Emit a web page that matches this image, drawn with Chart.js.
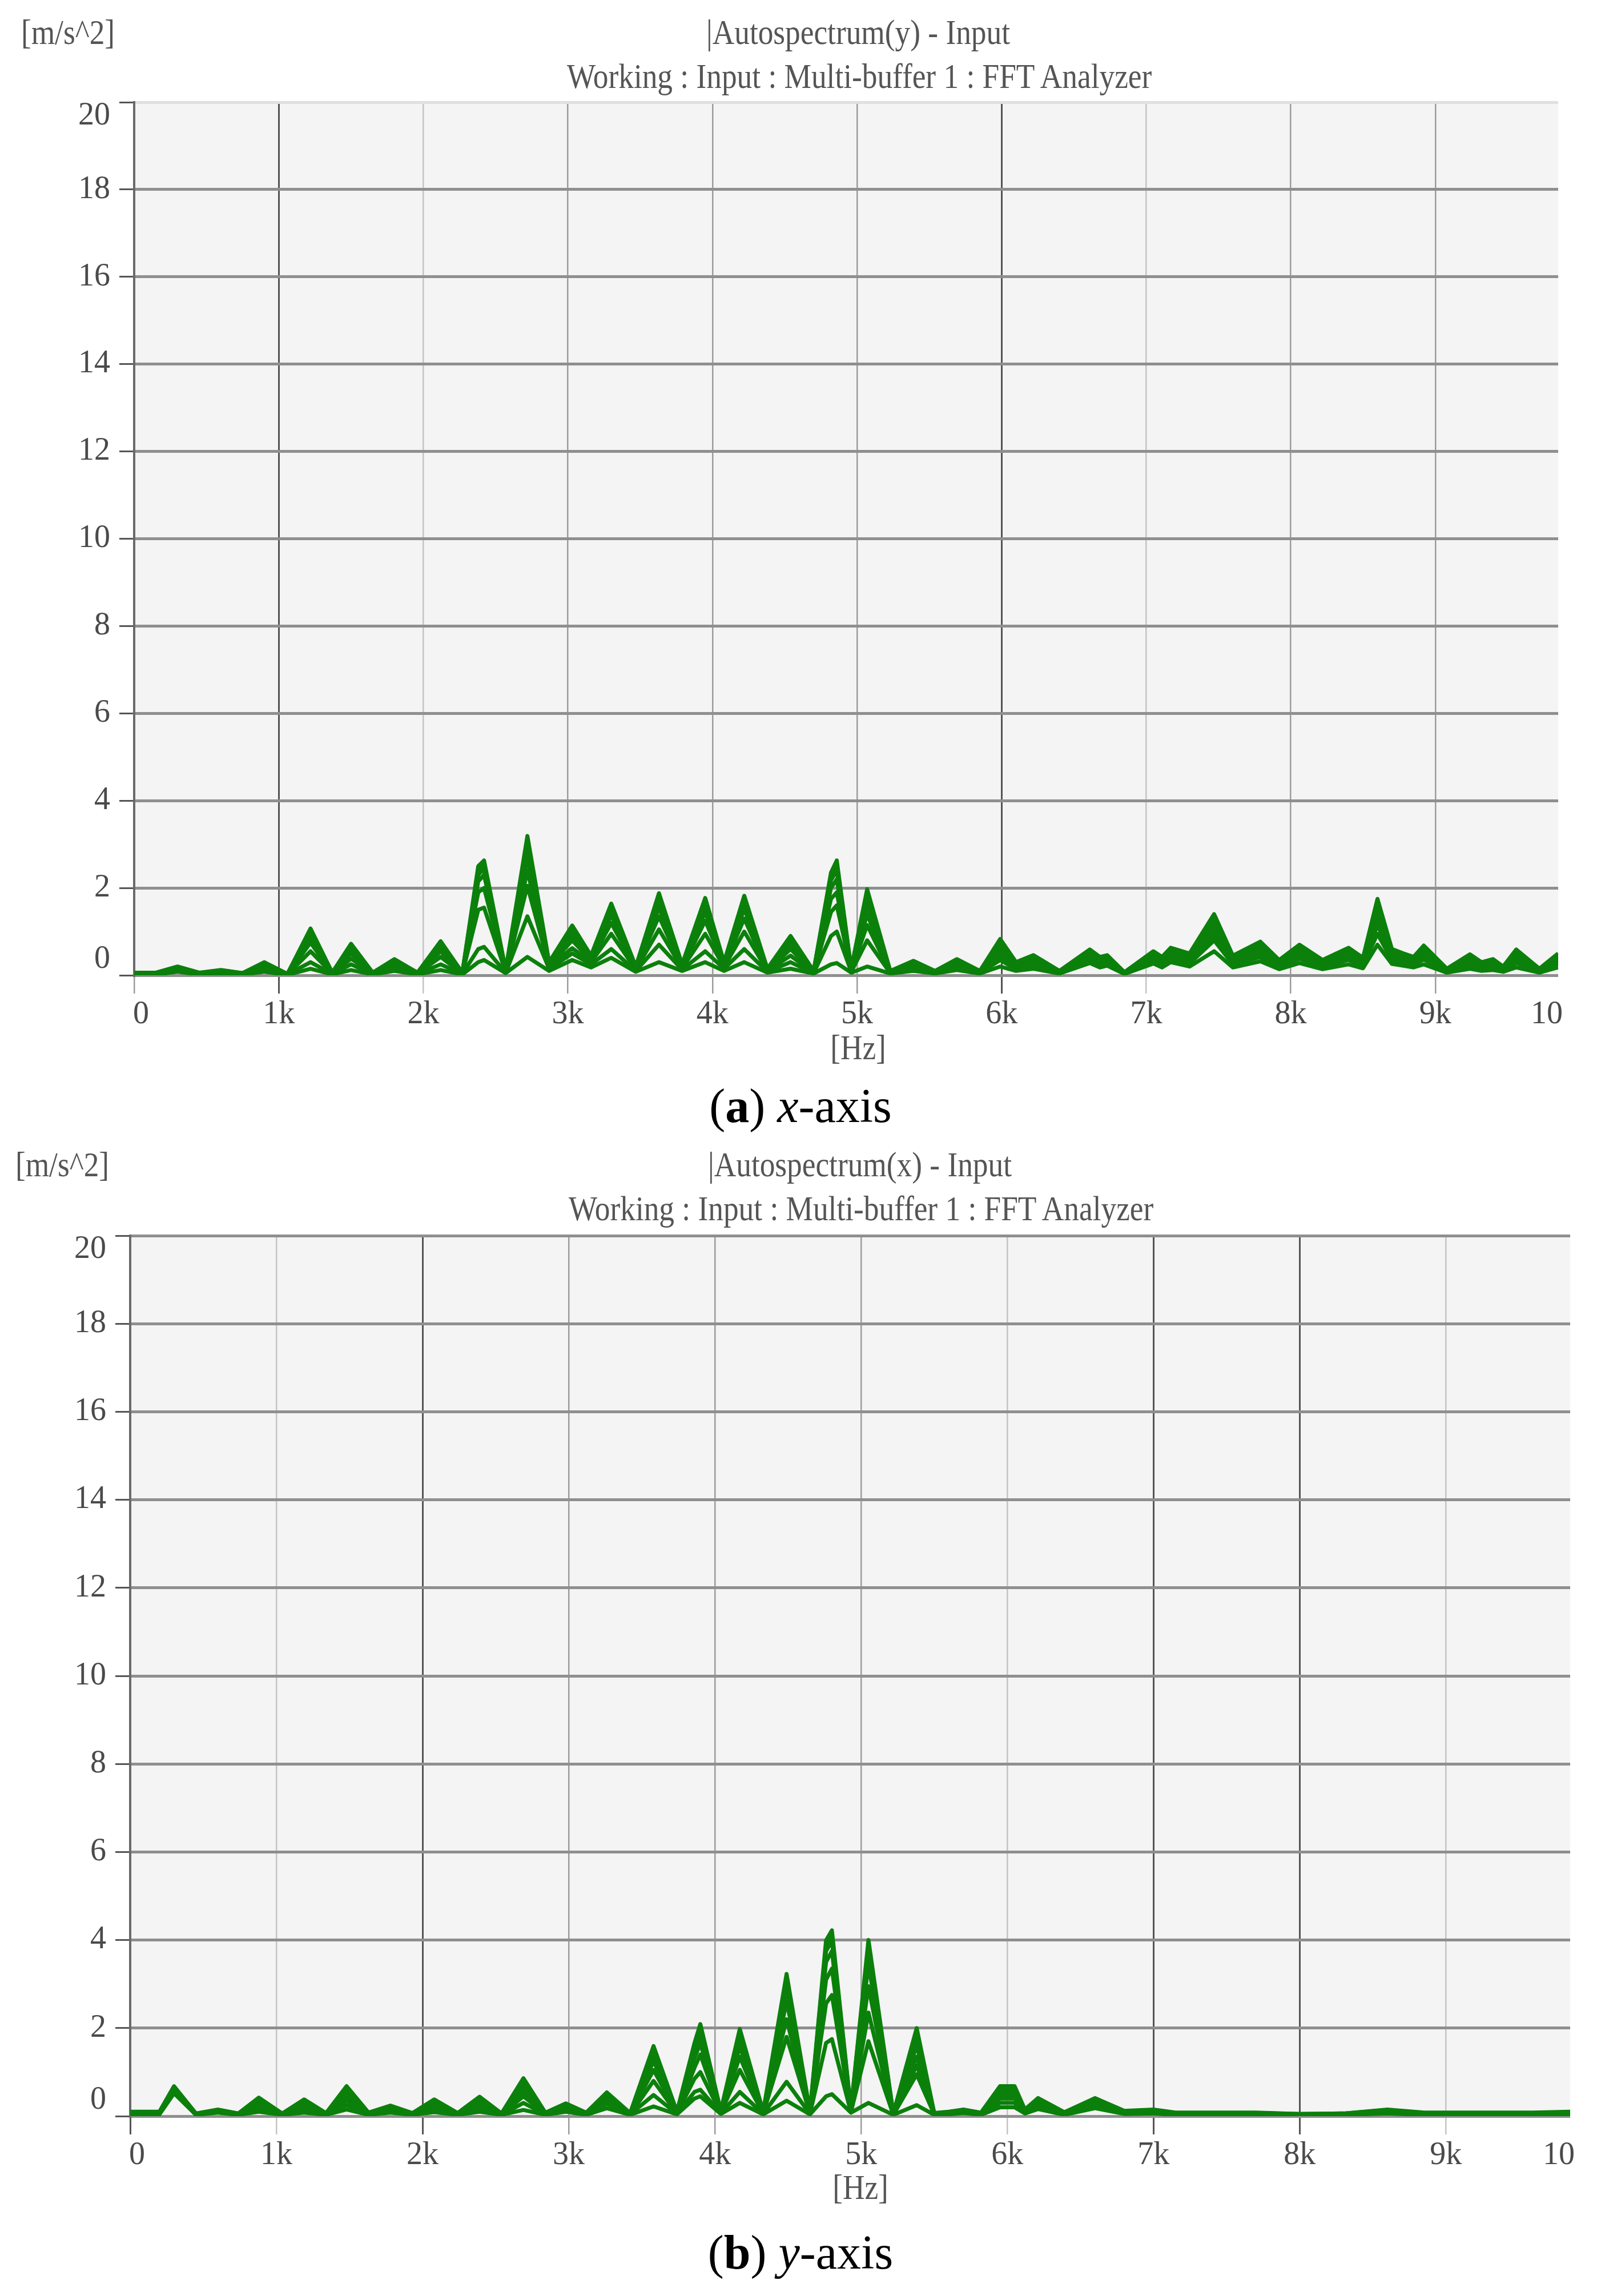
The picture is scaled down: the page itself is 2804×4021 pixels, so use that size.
<!DOCTYPE html>
<html lang="en">
<head>
<meta charset="UTF-8">
<title>Autospectrum - Multi-buffer FFT</title>
<script src="https://cdn.jsdelivr.net/npm/chart.js@4/dist/chart.umd.min.js"></script>
<style>
  html, body { margin: 0; padding: 0; background: #fff; }
  body { width: 2804px; height: 4021px; position: relative; overflow: hidden; font-family: 'Liberation Serif', serif; }
  .box { position: absolute; left: 0; width: 2804px; }
  .txt { position: absolute; white-space: nowrap; font-size: 62px; line-height: 1; color: #555;
         transform: translate(-50%, -50%) scaleX(0.86); }
  .cap { position: absolute; white-space: nowrap; font-size: 84px; line-height: 1; color: #000;
         transform: translate(-50%, -50%); }
</style>
</head>
<body>

<div class="box" style="top:120px;height:1730px"><canvas id="chartA"></canvas></div>
<div class="box" style="top:2104px;height:1746px"><canvas id="chartB"></canvas></div>

<!-- (a) -->
<div class="txt" style="left:119px;top:56px">[m/s^2]</div>
<div class="txt" style="left:1503px;top:56px">|Autospectrum(y) - Input</div>
<div class="txt" style="left:1505px;top:133px">Working : Input : Multi-buffer 1 : FFT Analyzer</div>
<div class="txt" style="left:1503px;top:1834px">[Hz]</div>
<div class="cap" style="left:1402px;top:1937px">(<b>a</b>) <i>x</i>-axis</div>

<!-- (b) -->
<div class="txt" style="left:109px;top:2039px">[m/s^2]</div>
<div class="txt" style="left:1506px;top:2039px">|Autospectrum(x) - Input</div>
<div class="txt" style="left:1508px;top:2116px">Working : Input : Multi-buffer 1 : FFT Analyzer</div>
<div class="txt" style="left:1507px;top:3830px">[Hz]</div>
<div class="cap" style="left:1402px;top:3945px">(<b>b</b>) <i>y</i>-axis</div>

<script>
// tick labels
const X_MAX = 9850;
const xTickVals = [0, 1000, 2000, 3000, 4000, 5000, 6000, 7000, 8000, 9000, X_MAX];
const xTickLabels = ['0', '1k', '2k', '3k', '4k', '5k', '6k', '7k', '8k', '9k', '10'];

// (a) frequencies [Hz] and the 8 buffer traces [m/s^2]
const freqA = [0,150,300,450,600,750,900,1060,1220,1370,
  1500,1650,1800,1960,2120,2270,2380,2420,2570,2720,
  2870,3030,3160,3300,3470,3630,3790,3950,4080,4220,
  4380,4540,4700,4820,4860,4960,5070,5230,5390,5540,
  5690,5850,5990,6100,6220,6400,6610,6680,6730,6850,
  7050,7110,7170,7300,7470,7600,7790,7920,8060,8220,
  8400,8500,8600,8700,8780,8850,8920,9080,9240,9320,
  9400,9470,9560,9720,9850];

const a1 = [.06,.06,.20,.06,.12,.05,.30,.03,1.07,.06,
  .72,.06,.37,.06,.78,.06,2.50,2.63,.12,3.19,
  .30,1.14,.45,1.64,.20,1.88,.25,1.77,.30,1.82,
  .15,.90,.10,2.35,2.63,.15,1.97,.10,.33,.10,
  .37,.10,.83,.30,.46,.10,.59,.42,.46,.07,
  .55,.42,.63,.50,1.40,.45,.77,.35,.70,.35,
  .63,.40,1.75,.60,.50,.42,.68,.15,.48,.30,
  .37,.20,.59,.15,.50];
const a2 = [.05,.05,.18,.05,.11,.05,.28,.03,1.00,.06,
  .68,.06,.35,.06,.74,.06,2.42,2.55,.11,3.05,
  .28,1.08,.42,1.55,.19,1.80,.24,1.70,.28,1.74,
  .14,.85,.09,2.28,2.52,.14,1.88,.09,.30,.09,
  .34,.09,.78,.28,.43,.09,.56,.40,.43,.07,
  .52,.40,.60,.47,1.33,.42,.73,.33,.66,.33,
  .60,.38,1.66,.56,.47,.40,.64,.14,.45,.28,
  .35,.19,.56,.14,.47];
const a3 = [.05,.05,.17,.05,.10,.04,.25,.03,.93,.05,
  .64,.05,.32,.05,.70,.05,2.30,2.45,.10,2.90,
  .26,1.00,.40,1.48,.18,1.70,.22,1.60,.26,1.65,
  .13,.80,.09,2.18,2.40,.13,1.78,.09,.28,.09,
  .31,.09,.72,.25,.40,.09,.52,.37,.41,.06,
  .49,.37,.56,.44,1.25,.39,.68,.31,.62,.31,
  .56,.35,1.56,.52,.44,.37,.60,.13,.42,.26,
  .32,.18,.52,.13,.44];
const a4 = [.04,.04,.15,.04,.10,.04,.22,.02,.85,.05,
  .58,.05,.30,.05,.64,.05,2.15,2.30,.09,2.70,
  .24,.92,.37,1.38,.16,1.55,.20,1.45,.24,1.52,
  .12,.72,.08,2.00,2.20,.12,1.62,.08,.25,.08,
  .28,.08,.65,.22,.36,.08,.48,.34,.38,.06,
  .45,.34,.52,.40,1.15,.36,.62,.28,.57,.28,
  .52,.32,1.45,.48,.41,.34,.55,.12,.38,.24,
  .29,.16,.47,.12,.40];
const a5 = [.04,.04,.14,.04,.09,.03,.20,.02,.75,.04,
  .50,.04,.27,.04,.55,.04,1.90,2.00,.08,2.40,
  .22,.80,.34,1.20,.15,1.35,.18,1.25,.22,1.30,
  .11,.60,.07,1.75,1.90,.11,1.40,.07,.22,.07,
  .25,.07,.55,.20,.32,.07,.44,.31,.35,.05,
  .42,.31,.48,.36,1.05,.33,.56,.26,.52,.26,
  .47,.29,1.30,.44,.38,.31,.50,.11,.34,.22,
  .26,.15,.42,.11,.36];
const a6 = [.03,.03,.12,.03,.08,.03,.16,.02,.55,.04,
  .38,.04,.22,.04,.42,.04,1.50,1.55,.07,2.05,
  .20,.62,.30,.95,.13,1.05,.16,.95,.19,1.00,
  .10,.45,.06,1.45,1.60,.10,1.15,.06,.20,.06,
  .22,.06,.45,.17,.28,.06,.40,.28,.32,.05,
  .38,.28,.44,.32,.92,.30,.50,.23,.46,.23,
  .42,.26,1.15,.40,.34,.28,.44,.10,.30,.19,
  .22,.13,.36,.10,.32];
const a7 = [.03,.03,.10,.03,.06,.02,.12,.02,.30,.03,
  .25,.03,.15,.03,.25,.03,.60,.65,.06,1.35,
  .15,.50,.25,.60,.10,.70,.13,.55,.15,.60,
  .08,.30,.05,.90,1.00,.08,.80,.05,.15,.05,
  .18,.05,.35,.14,.22,.05,.35,.24,.28,.04,
  .33,.24,.38,.27,.80,.25,.42,.19,.38,.19,
  .35,.22,.95,.34,.29,.24,.36,.08,.24,.15,
  .18,.10,.28,.08,.26];
const a8 = [.02,.02,.08,.02,.05,.02,.08,.01,.15,.02,
  .12,.02,.10,.02,.12,.02,.30,.35,.05,.42,
  .10,.35,.18,.40,.08,.30,.10,.30,.10,.30,
  .06,.15,.04,.25,.28,.06,.20,.04,.10,.04,
  .12,.04,.20,.10,.15,.04,.28,.18,.22,.03,
  .27,.18,.30,.20,.55,.18,.32,.14,.28,.14,
  .25,.16,.70,.26,.22,.18,.25,.06,.15,.10,
  .12,.08,.18,.06,.18];

// (b) frequencies [Hz] and the 8 buffer traces [m/s^2]
const freqB = [0,200,300,450,600,740,880,1040,1190,1340,
  1480,1630,1780,1930,2080,2240,2390,2540,2690,2840,
  2980,3120,3260,3420,3580,3740,3860,3900,4040,4170,
  4330,4490,4650,4760,4800,4930,5050,5220,5380,5500,
  5600,5700,5820,5950,6050,6120,6210,6390,6600,6800,
  7000,7150,7400,7700,8000,8300,8600,8850,9200,9400,
  9600,9850];

const b1 = [.10,.10,.68,.06,.15,.06,.42,.06,.38,.07,
  .68,.08,.24,.07,.38,.07,.44,.06,.86,.08,
  .29,.08,.54,.07,1.59,.10,1.66,2.09,.12,1.98,
  .10,3.23,.10,3.99,4.22,.15,4.00,.06,2.00,.07,
  .10,.15,.08,.68,.68,.15,.41,.09,.41,.12,
  .15,.08,.08,.08,.05,.06,.15,.08,.08,.08,
  .08,.10];
const b2 = [.09,.09,.66,.06,.14,.06,.38,.06,.35,.06,
  .63,.07,.22,.06,.35,.06,.41,.06,.80,.07,
  .27,.07,.51,.06,1.50,.09,1.58,1.98,.11,1.88,
  .09,3.08,.09,3.88,4.10,.14,3.88,.06,1.90,.06,
  .09,.14,.07,.65,.64,.14,.39,.08,.39,.11,
  .14,.07,.07,.07,.05,.06,.14,.07,.07,.07,
  .07,.09];
const b3 = [.08,.08,.64,.05,.13,.05,.35,.05,.31,.06,
  .58,.07,.20,.06,.32,.06,.38,.05,.74,.07,
  .25,.07,.48,.06,1.40,.09,1.48,1.85,.10,1.76,
  .09,2.90,.09,3.75,3.98,.13,3.72,.05,1.78,.06,
  .09,.13,.07,.60,.60,.13,.36,.08,.37,.10,
  .13,.07,.07,.07,.04,.05,.13,.07,.07,.07,
  .07,.08];
const b4 = [.08,.08,.62,.05,.12,.05,.30,.05,.27,.05,
  .52,.06,.18,.05,.28,.05,.34,.05,.66,.06,
  .23,.06,.44,.05,1.25,.08,1.32,1.65,.09,1.58,
  .08,2.60,.08,3.50,3.75,.12,3.45,.05,1.60,.05,
  .08,.12,.06,.55,.54,.12,.33,.07,.34,.09,
  .12,.06,.06,.06,.04,.05,.12,.06,.06,.06,
  .06,.08];
const b5 = [.07,.07,.60,.04,.11,.04,.26,.04,.23,.05,
  .45,.05,.16,.05,.24,.05,.30,.04,.56,.05,
  .21,.05,.40,.05,1.05,.07,1.10,1.40,.08,1.35,
  .07,2.20,.07,3.10,3.35,.11,2.95,.04,1.35,.05,
  .07,.11,.05,.48,.47,.11,.30,.06,.31,.08,
  .11,.05,.05,.05,.04,.04,.11,.05,.05,.05,
  .05,.07];
const b6 = [.06,.06,.58,.04,.10,.04,.20,.04,.18,.04,
  .35,.05,.13,.04,.19,.04,.24,.04,.45,.05,
  .18,.05,.35,.04,.80,.06,.85,1.00,.07,1.05,
  .06,1.80,.06,2.56,2.75,.10,2.35,.04,1.15,.04,
  .06,.10,.05,.40,.40,.10,.27,.05,.28,.07,
  .10,.05,.05,.05,.03,.04,.10,.05,.05,.05,
  .05,.06];
const b7 = [.05,.05,.56,.03,.09,.03,.15,.03,.13,.04,
  .25,.04,.10,.04,.14,.04,.18,.03,.30,.04,
  .14,.04,.28,.04,.48,.05,.55,.60,.06,.55,
  .05,.78,.05,1.66,1.75,.09,1.70,.03,.95,.04,
  .05,.09,.04,.30,.30,.08,.22,.04,.24,.06,
  .08,.04,.04,.04,.03,.03,.08,.04,.04,.04,
  .04,.05];
const b8 = [.04,.04,.52,.03,.08,.03,.10,.03,.08,.03,
  .15,.03,.08,.03,.09,.03,.10,.03,.14,.03,
  .10,.03,.18,.03,.22,.04,.40,.45,.05,.30,
  .04,.35,.04,.45,.50,.08,.30,.03,.25,.03,
  .04,.07,.03,.20,.20,.06,.16,.03,.18,.05,
  .06,.03,.03,.03,.02,.03,.06,.03,.03,.03,
  .03,.04];

Chart.defaults.font.family = "'Liberation Serif', serif";

const plotBg = {
  id: 'plotBg',
  beforeDraw(chart) {
    const { ctx, chartArea: a } = chart;
    ctx.save();
    ctx.fillStyle = '#f4f4f4';
    ctx.fillRect(a.left, a.top, a.right - a.left, a.bottom - a.top);
    ctx.restore();
  }
};

// the analyzer nudges its end labels inwards
const edgeLabels = {
  id: 'edgeLabels',
  beforeDraw(chart) {
    const ys = chart.scales.y.getLabelItems();
    if (!ys.moved) {
      ys[0].options.translation[1] -= 28;
      ys[ys.length - 1].options.translation[1] += 24;
      ys.moved = true;
    }
    const xs = chart.scales.x.getLabelItems();
    if (!xs.moved) {
      xs[0].options.translation[0] += 12;
      xs[xs.length - 1].options.translation[0] -= 20;
      xs.moved = true;
    }
  }
};

function makeChart(id, freqs, traces, cfg) {
  const datasets = traces.map(t => ({
    data: freqs.map((f, i) => ({ x: f, y: t[i] })),
    borderColor: '#0b800b',
    borderWidth: 7,
    borderJoinStyle: 'round',
    pointRadius: 0,
    tension: 0,
    fill: false
  }));

  const vColor = (c) => {
    const v = c.tick.value;
    if (v === X_MAX) return 'rgba(0,0,0,0)';
    if (cfg.dark.includes(v)) return '#555';
    if (cfg.mid.includes(v)) return '#9c9c9c';
    return '#c4c4c4';
  };

  return new Chart(document.getElementById(id), {
    type: 'line',
    data: { datasets },
    plugins: [plotBg, edgeLabels],
    options: {
      responsive: true,
      maintainAspectRatio: false,
      devicePixelRatio: 1,
      animation: false,
      layout: { padding: cfg.pad },
      plugins: { legend: { display: false }, tooltip: { enabled: false } },
      scales: {
        x: {
          type: 'linear',
          min: 0,
          max: X_MAX,
          afterBuildTicks: (s) => { s.ticks = xTickVals.map(v => ({ value: v })); },
          afterFit: (s) => { s.height = cfg.xHeight; },
          grid: {
            color: vColor,
            tickColor: vColor,
            lineWidth: (c) => cfg.dark.includes(c.tick.value) ? 3 : 2.5,
            tickLength: 32
          },
          border: { display: false },
          ticks: {
            autoSkip: false,
            maxRotation: 0,
            padding: 4,
            color: '#4a4a4a',
            font: { size: 56 },
            callback: (v, i) => xTickLabels[i]
          }
        },
        y: {
          min: 0,
          max: 20,
          afterFit: (s) => { s.width = cfg.yWidth; },
          grid: {
            color: (c) => (c.tick.value === 20 && cfg.lightTop) ? '#e0e0e0' : '#8f8f8f',
            lineWidth: 5,
            tickColor: '#555',
            tickWidth: 3,
            tickLength: 26
          },
          border: { display: true, color: '#6a6a6a', width: 4 },
          ticks: {
            stepSize: 2,
            padding: 16,
            color: '#4a4a4a',
            font: { size: 56 }
          }
        }
      }
    }
  });
}

makeChart('chartA', freqA, [a1, a2, a3, a4, a5, a6, a7, a8], {
  pad: { left: 0, right: 75, top: 59, bottom: 0 },
  yWidth: 235,
  xHeight: 142,
  lightTop: true,
  dark: [1000, 6000],
  mid: [0, 3000, 4000, 5000, 8000, 9000]
});

makeChart('chartB', freqB, [b1, b2, b3, b4, b5, b6, b7, b8], {
  pad: { left: 0, right: 54, top: 60, bottom: 0 },
  yWidth: 228,
  xHeight: 144,
  lightTop: false,
  dark: [0, 2000, 7000, 8000],
  mid: [3000, 4000, 5000]
});
</script>
</body>
</html>
